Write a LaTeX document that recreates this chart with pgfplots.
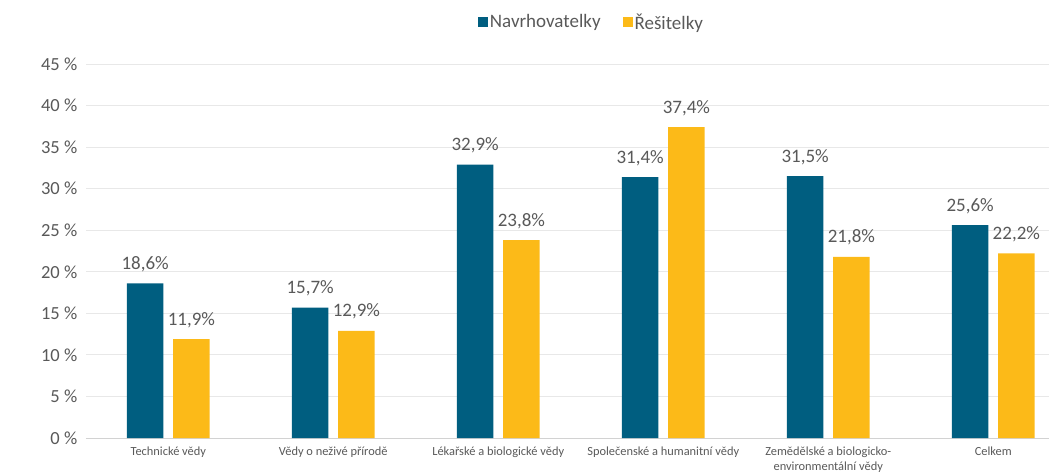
\documentclass[border=0pt]{standalone}
\usepackage{pgfplots}
\pgfplotsset{compat=1.18}
\usepackage{fontspec}
\setmainfont{Carlito}
\definecolor{cblue}{RGB}{0,94,128}
\definecolor{cyel}{RGB}{252,186,24}
\definecolor{tgray}{RGB}{89,89,89}
\definecolor{gridc}{RGB}{232,232,232}
\definecolor{axc}{RGB}{210,210,210}
\begin{document}
\begin{tikzpicture}
\useasboundingbox (-85.8pt,-37pt) rectangle (963.2pt,438pt);
\begin{axis}[
  at={(0,0)}, anchor=south west, scale only axis,
  width=963.2pt, height=374pt,
  xmin=-0.5, xmax=5.338, ymin=0, ymax=45,
  ybar=9.6pt, bar width=36.6pt,
  /pgf/number format/assume math mode=true,
  ytick={0,5,10,15,20,25,30,35,40,45},
  yticklabels={0 \%,5 \%,10 \%,15 \%,20 \%,25 \%,30 \%,35 \%,40 \%,45 \%},
  yticklabel style={font=\fontsize{18.5}{21}\selectfont, text=tgray, xshift=-5pt},
  xtick={0,1,2,3,4,5},
  xticklabels={Technické vědy, Vědy o neživé přírodě, Lékařské a biologické vědy, Společenské a humanitní vědy, {Zemědělské a biologicko-\\environmentální vědy}, Celkem},
  xticklabel style={font=\fontsize{12.4}{15.5}\selectfont, text=tgray, align=center, yshift=-5pt},
  major tick length=0pt,
  axis lines*=left,
  axis line style={-},
  y axis line style={draw=none},
  x axis line style={draw=axc, line width=1pt},
  ymajorgrids, grid style={draw=gridc, line width=0.9pt},
  nodes near coords={\pgfmathprintnumber[fixed,fixed zerofill,precision=1,use comma]{\pgfplotspointmeta}\%},
  every node near coord/.append style={font=\fontsize{19}{22}\selectfont, text=tgray, anchor=base, yshift=14pt},
  legend style={at={(0.525,1.112)}, anchor=center, draw=none, fill=none, legend columns=2,
    font=\fontsize{19}{22}\selectfont, text=tgray,
    /tikz/every even column/.append style={column sep=20pt}},
  legend cell align=left,
]
\addplot[fill=cblue, draw=none,
  legend image code/.code={\fill[cblue] (0pt,-5pt) rectangle (10pt,5pt);}]
  coordinates {(0,18.6) (1,15.7) (2,32.9) (3,31.4) (4,31.5) (5,25.6)};
\addlegendentry{Navrhovatelky}
\addplot[fill=cyel, draw=none,
  legend image code/.code={\fill[cyel] (0pt,-5pt) rectangle (10pt,5pt);}]
  coordinates {(0,11.9) (1,12.9) (2,23.8) (3,37.4) (4,21.8) (5,22.2)};
\addlegendentry{Řešitelky}
\end{axis}
\end{tikzpicture}
\end{document}
